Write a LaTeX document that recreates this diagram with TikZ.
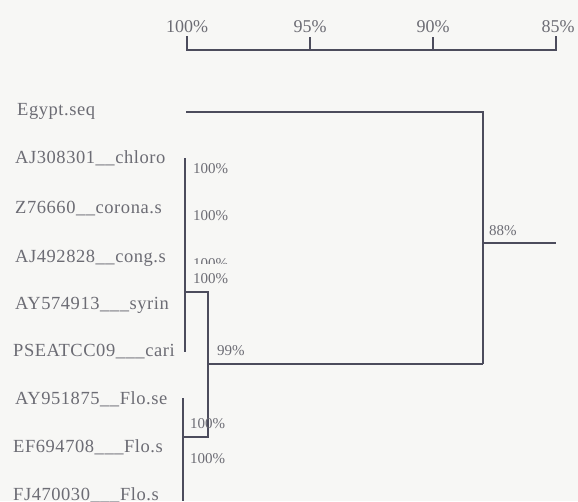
\documentclass[tikz,border=0pt]{standalone}
\usepackage{fontspec}
\setmainfont{Liberation Serif}
\newfontfamily\spaced[LetterSpace=3]{Liberation Serif}
\begin{document}
\begin{tikzpicture}[x=1pt,y=-1pt,
  taxon/.style={anchor=base west,inner sep=0pt,text=txtgray,font=\spaced\fontsize{18.5}{20}\selectfont},
  pct/.style={anchor=base west,inner sep=0pt,text=txtgray,font=\fontsize{15}{16}\selectfont},
  scl/.style={anchor=base,inner sep=0pt,text=txtgray,font=\fontsize{18}{19}\selectfont},
  branch/.style={draw=linegray,line width=1.9pt},
]
\definecolor{txtgray}{HTML}{6C6C74}
\definecolor{linegray}{HTML}{4C4C5C}
\definecolor{bg}{HTML}{F7F7F5}
\fill[bg] (0,0) rectangle (578,501);
\useasboundingbox (0,0) rectangle (578,501);
% scale
\node[scl] (s100) at (187,32) {100\%};
\node[scl] (s95) at (310,32) {95\%};
\node[scl] (s90) at (433,32) {90\%};
\node[scl] (s85) at (558,32) {85\%};
\coordinate (t100) at (187,37);
\coordinate (t95) at (310,37);
\coordinate (t90) at (433,37);
\coordinate (t85) at (556,37);
\draw[branch,line cap=rect] (t100) -- (187,50) -- (556,50) -- (t85);
\draw[branch] (t95) -- (310,50);
\draw[branch] (t90) -- (433,50);
% taxa
\node[taxon] (egy) at (17,115) {Egypt.seq};
\node[taxon] (chl) at (15,163) {AJ308301\_\_chloro};
\node[taxon] (cor) at (15,213) {Z76660\_\_corona.s};
\node[taxon] (con) at (15,262) {AJ492828\_\_cong.s};
\node[taxon] (syr) at (15,309) {AY574913\_\_\_syrin};
\node[taxon] (car) at (13,356) {PSEATCC09\_\_\_cari};
\node[taxon] (fse) at (15,404) {AY951875\_\_Flo.se};
\node[taxon] (fs1) at (13,452) {EF694708\_\_\_Flo.s};
\node[taxon] (fs2) at (13,500) {FJ470030\_\_\_Flo.s};
% tree
\coordinate (e1) at (186,112);
\coordinate (e2) at (483,112);
\coordinate (r1) at (483,243);
\coordinate (r2) at (556,243);
\coordinate (j) at (483,364);
\coordinate (a1) at (185,158);
\coordinate (a2) at (185,352);
\coordinate (b1) at (185,292);
\coordinate (b2) at (208,292);
\coordinate (b3) at (208,437);
\coordinate (b4) at (183,437);
\coordinate (bm) at (208,364);
\coordinate (c1) at (183,398);
\coordinate (c2) at (183,501);
\draw[branch] (e1) -- (e2) -- (j);
\draw[branch] (r1) -- (r2);
\draw[branch] (a1) -- (a2);
\draw[branch] (b1) -- (b2) -- (b3) -- (b4);
\draw[branch] (bm) -- (j);
\draw[branch] (c1) -- (c2);
% support values
\node[pct] (p1) at (193,173) {100\%};
\node[pct] (p2) at (193,220) {100\%};
\begin{scope}
\clip (150,250) rectangle (260,263);
\node[pct] (p3) at (193,268) {100\%};
\end{scope}
\node[pct] (p4) at (193,283) {100\%};
\node[pct] (p5) at (217,355) {99\%};
\node[pct] (p6) at (190,428) {100\%};
\node[pct] (p7) at (190,463) {100\%};
\node[pct] (p8) at (489,235) {88\%};
\end{tikzpicture}
\end{document}
